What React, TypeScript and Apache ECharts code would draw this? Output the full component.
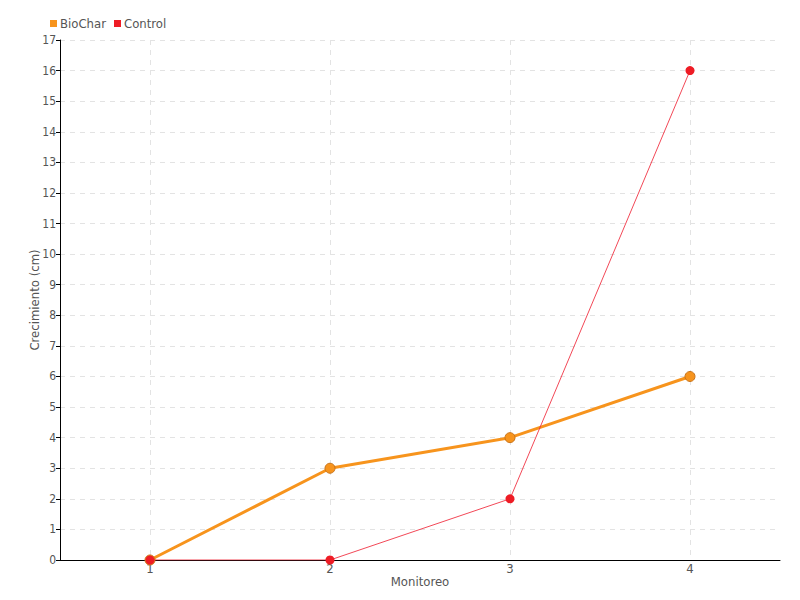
import React, { useEffect, useRef } from "react";
import * as echarts from "echarts";

const categories = ["1", "2", "3", "4"];
const bioChar = [0, 3, 4, 6];
const control = [0, 0, 2, 16];

const FONT = "'DejaVu Sans Condensed', 'Liberation Sans Narrow', 'Roboto', sans-serif";

export default function App() {
  const ref = useRef<HTMLDivElement>(null);
  useEffect(() => {
    if (!ref.current) return;
    const chart = echarts.init(ref.current, null, { renderer: "svg" });
    chart.setOption({
      animation: false,
      textStyle: { fontFamily: FONT, color: "#555" },
      legend: {
        left: 45,
        top: 12,
        itemWidth: 7,
        itemHeight: 7,
        itemGap: 8,
        icon: "rect",
        itemStyle: { borderWidth: 0 },
        textStyle: { fontFamily: FONT, fontSize: 13, color: "#555", padding: [0, 0, 0, -2] },
        data: ["BioChar", "Control"],
      },
      grid: { left: 60, right: 20, top: 40, bottom: 40, containLabel: false },
      xAxis: {
        type: "category",
        data: categories,
        boundaryGap: true,
        name: "Monitoreo",
        nameLocation: "middle",
        nameGap: 15,
        nameMoveOverlap: false,
        nameTextStyle: { fontFamily: FONT, fontSize: 13, color: "#555" },
        axisLine: { lineStyle: { color: "#000", width: 1 } },
        axisTick: { show: false },
        axisLabel: { margin: 2, fontFamily: FONT, fontSize: 13, color: "#555" },
        splitLine: { show: true, alignWithLabel: true, lineStyle: { type: [5, 5], color: "#e3e3e3" } },
      },
      yAxis: {
        type: "value",
        min: 0,
        max: 17,
        interval: 1,
        name: "Crecimiento (cm)",
        nameLocation: "middle",
        nameGap: 19,
        nameMoveOverlap: false,
        nameTextStyle: { fontFamily: FONT, fontSize: 13, color: "#555" },
        axisLine: { show: true, lineStyle: { color: "#000", width: 1 } },
        axisTick: { show: true, length: 4, lineStyle: { color: "#000" } },
        axisLabel: { margin: 4, fontFamily: FONT, fontSize: 12, color: "#555" },
        splitLine: { show: true, lineStyle: { type: [5, 5], color: "#e3e3e3" } },
      },
      series: [
        {
          name: "BioChar",
          type: "line",
          data: bioChar,
          symbol: "circle",
          symbolSize: 10,
          color: "#f7941d",
          lineStyle: { width: 3, color: "#f7941d" },
          itemStyle: { color: "#f7941d", borderColor: "#c8731a", borderWidth: 1 },
          z: 2,
        },
        {
          name: "Control",
          type: "line",
          data: control,
          symbol: "circle",
          symbolSize: 9,
          color: "#ee1c25",
          lineStyle: { width: 1, color: "#f0283a", opacity: 0.85 },
          itemStyle: { color: "#ee1c25" },
          z: 3,
        },
      ],
    });
    return () => chart.dispose();
  }, []);
  return <div ref={ref} style={{ width: 800, height: 600, position: "absolute", left: 0, top: 0 }} />;
}
